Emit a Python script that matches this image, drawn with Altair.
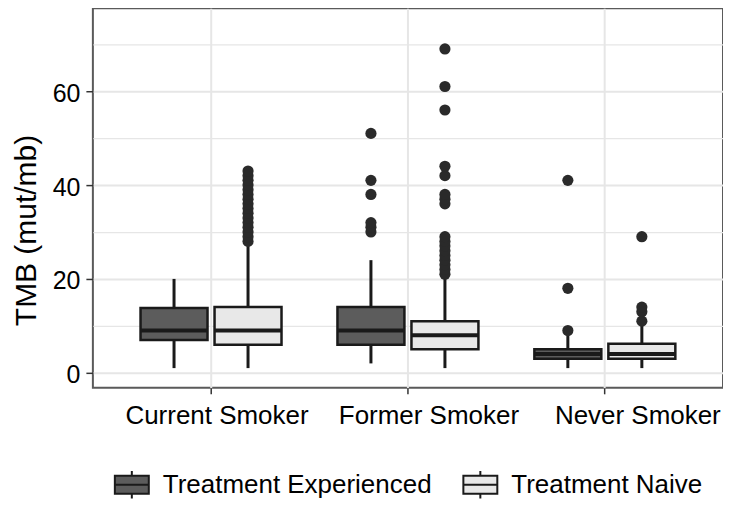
import altair as alt
import pandas as pd

categories = ["Current Smoker", "Former Smoker", "Never Smoker"]
groups = ["Treatment Experienced", "Treatment Naive"]
fill_colors = ["#5c5c5c", "#e8e8e8"]

# box summary per (category, group)
box_category = ["Current Smoker", "Current Smoker", "Former Smoker",
                "Former Smoker", "Never Smoker", "Never Smoker"]
box_group = ["Treatment Experienced", "Treatment Naive"] * 3
whisker_low = [1, 1, 2, 1, 1, 1]
q1 = [7, 6, 6, 5, 3, 3]
median = [9, 9, 9, 8, 4, 4]
q3 = [13.8, 14, 14, 11, 5, 6.2]
whisker_high = [20, 27, 24, 20.5, 8, 10.5]

# outliers
cur_exp_out = []
cur_naive_out = [28, 29, 30, 31, 32, 33, 34, 35, 36, 37, 38, 39, 40, 41, 42, 43]
for_exp_out = [30, 31, 32, 38, 41, 51]
for_naive_out = [21, 22, 23, 24, 25, 26, 27, 28, 29, 36, 37, 38, 42, 44, 56, 61, 69]
nev_exp_out = [9, 18, 41]
nev_naive_out = [11, 13, 14, 29]

boxes = pd.DataFrame({
    "category": box_category, "group": box_group,
    "low": whisker_low, "q1": q1, "median": median, "q3": q3, "high": whisker_high,
})

out_lists = [cur_exp_out, cur_naive_out, for_exp_out, for_naive_out, nev_exp_out, nev_naive_out]
rows = []
for c, g, vals in zip(box_category, box_group, out_lists):
    for v in vals:
        rows.append({"category": c, "group": g, "value": v})
outliers = pd.DataFrame(rows)

ink = "#1a1a1a"

x_enc = alt.X(
    "category:N", sort=categories,
    scale=alt.Scale(paddingInner=0, paddingOuter=0.1),
    axis=alt.Axis(
        title=None, labelAngle=0, labelFontSize=26, labelColor="black",
        labelBaseline="top", labelPadding=9, labelLimit=400,
        labelOffset={"condition": [
            {"test": "datum.value === 'Former Smoker'", "value": 21},
            {"test": "datum.value === 'Never Smoker'", "value": 33}],
            "value": 6},
        tickColor="#333333", tickSize=6, tickWidth=1.5,
        domain=False, grid=True, gridColor="#e6e6e6", gridWidth=2,
    ),
)
xo_enc = alt.XOffset("group:N", sort=groups,
                     scale=alt.Scale(paddingInner=0.095, paddingOuter=0.378))

y_scale = alt.Scale(domain=[-3.2, 77.65], nice=False, zero=False)
y_axis = alt.Axis(
    values=[0, 10, 20, 30, 40, 50, 60, 70],
    labelExpr="datum.value % 20 === 0 ? datum.label : ''",
    title="TMB (mut/mb)", titleFontSize=30, titleFontWeight="normal",
    titleColor="black", titleX=-57, titleY=222, titleAlign="center",
    titleBaseline="alphabetic",
    labelFontSize=25, labelColor="black", labelPadding=6, labelOffset=2,
    tickSize=7, tickWidth=1.5,
    tickColor={"condition": {"test": "datum.value % 20 === 0", "value": "#333333"},
               "value": "transparent"},
    grid=True, gridColor="#e6e6e6",
    gridWidth={"condition": {"test": "datum.value % 20 === 0", "value": 2},
               "value": 1.3},
    domain=False,
)

legend_symbol = ("M-1.545,-0.82H1.545V0.82H-1.545Z "
                 "M-1.545,0H1.545 M0,-0.82V-1.25 M0,0.82V1.25")

whiskers = alt.Chart(boxes).mark_rule(color=ink, strokeWidth=3).encode(
    x=x_enc, xOffset=xo_enc,
    y=alt.Y("low:Q", scale=y_scale, axis=y_axis), y2="high:Q",
)

box = alt.Chart(boxes).mark_bar(stroke=ink, strokeWidth=2.5, opacity=1).encode(
    x=x_enc, xOffset=xo_enc,
    y=alt.Y("q1:Q", scale=y_scale, axis=y_axis), y2="q3:Q",
    fill=alt.Fill("group:N", sort=groups,
                  scale=alt.Scale(domain=groups, range=fill_colors),
                  legend=alt.Legend(
                      title=None, orient="none", direction="horizontal",
                      legendX=26, legendY=464, padding=0,
                      symbolType=legend_symbol, symbolSize=484,
                      symbolStrokeColor=ink, symbolStrokeWidth=2,
                      symbolOpacity=1,
                      labelFontSize=26, labelColor="black", labelOffset=18,
                      labelLimit=400, columnPadding=27,
                  )),
)

med = alt.Chart(boxes).mark_bar(stroke=ink, strokeWidth=4, fillOpacity=0).encode(
    x=x_enc, xOffset=xo_enc,
    y=alt.Y("median:Q", scale=y_scale, axis=y_axis), y2="median:Q",
)

pts = alt.Chart(outliers).mark_circle(color="#2a2a2a", size=125, opacity=1).encode(
    x=x_enc, xOffset=xo_enc,
    y=alt.Y("value:Q", scale=y_scale, axis=y_axis),
)

chart = alt.layer(whiskers, box, med, pts).properties(
    width=631, height=380,
    autosize=alt.AutoSizeParams(type="none"),
    padding={"left": 85, "top": 0, "right": 0, "bottom": 113},
    background="white",
).configure(
    font="Liberation Sans",
).configure_view(
    stroke="#5a5a5a", strokeWidth=2,
)

chart.save("out.html", embed_options={"renderer": "svg", "actions": False})
